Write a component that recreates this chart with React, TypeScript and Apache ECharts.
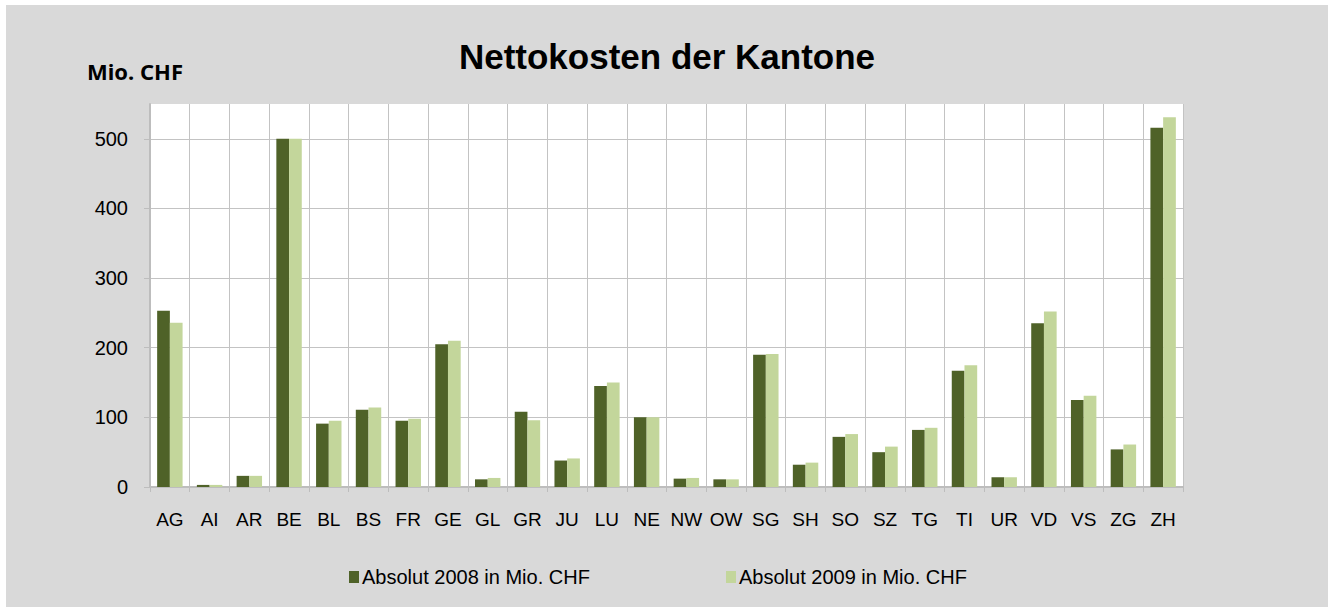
import React, { useEffect, useRef } from "react";
import * as echarts from "echarts";

const categories = ["AG","AI","AR","BE","BL","BS","FR","GE","GL","GR","JU","LU","NE","NW","OW","SG","SH","SO","SZ","TG","TI","UR","VD","VS","ZG","ZH"];
const values2008 = [253, 3, 16, 500, 91, 111, 95, 205, 11, 108, 38, 145, 100, 12, 11, 190, 32, 72, 50, 82, 167, 14, 235, 125, 54, 516];
const values2009 = [236, 3, 16, 500, 95, 114, 98, 210, 13, 96, 41, 150, 100, 13, 11, 191, 35, 76, 58, 85, 175, 14, 252, 131, 61, 531];
const yTicks = [0, 100, 200, 300, 400, 500];
const seriesNames = ["Absolut 2008 in Mio. CHF", "Absolut 2009 in Mio. CHF"];
const titleText = "Nettokosten der Kantone";
const unitText = "Mio. CHF";

const DARK = "#4F6228";
const LIGHT = "#C3D69B";
const GRID = "#c3c3c3";
const AXIS = "#bdbdbd";

export default function App() {
  const ref = useRef<HTMLDivElement>(null);
  useEffect(() => {
    if (!ref.current) return;
    const chart = echarts.init(ref.current, null, { renderer: "svg" });
    chart.setOption({
      animation: false,
      backgroundColor: "#d9d9d9",
      title: {
        text: titleText,
        left: "center",
        top: 29,
        textStyle: { fontFamily: "Liberation Sans, Arial, sans-serif", fontSize: 35, fontWeight: "bold", color: "#000" },
      },
      graphic: [
        {
          type: "text",
          left: 81,
          top: 55,
          style: { text: unitText, font: "bold 22px 'Noto Sans', 'Open Sans', sans-serif", fill: "#000" },
        },
      ],
      legend: [
        {
          data: [seriesNames[0]],
          left: 338,
          top: 557,
          itemWidth: 10,
          itemHeight: 12,
          icon: "rect",
          textStyle: { fontFamily: "Liberation Sans, Arial, sans-serif", fontSize: 20, color: "#000", padding: [0, 0, 0, -2] },
        },
        {
          data: [seriesNames[1]],
          left: 715,
          top: 557,
          itemWidth: 10,
          itemHeight: 12,
          icon: "rect",
          textStyle: { fontFamily: "Liberation Sans, Arial, sans-serif", fontSize: 20, color: "#000", padding: [0, 0, 0, -2] },
        },
      ],
      grid: { left: 144, top: 99, right: 145, bottom: 120, containLabel: false, show: true, backgroundColor: "#ffffff", borderWidth: 0 },
      xAxis: {
        type: "category",
        data: categories,
        boundaryGap: true,
        axisLine: { lineStyle: { color: AXIS, width: 2 } },
        axisTick: { show: true, length: 5, lineStyle: { color: AXIS, width: 1 } },
        splitLine: { show: true, lineStyle: { color: GRID, width: 1 } },
        axisLabel: {
          margin: 23,
          fontFamily: "Liberation Sans, Arial, sans-serif",
          fontSize: 19,
          color: "#000",
          interval: 0,
        },
      },
      yAxis: {
        type: "value",
        min: 0,
        max: 550,
        interval: 100,
        axisLine: { show: true, lineStyle: { color: AXIS, width: 2 } },
        axisTick: { show: true, length: 6, customValues: yTicks, lineStyle: { color: AXIS, width: 1 } },
        splitLine: { show: true, lineStyle: { color: GRID, width: 1 } },
        axisLabel: {
          customValues: yTicks,
          margin: 22,
          fontFamily: "Liberation Sans, Arial, sans-serif",
          fontSize: 20,
          color: "#000",
        },
      },
      series: [
        {
          name: seriesNames[0],
          type: "bar",
          data: values2008,
          itemStyle: { color: DARK },
          barGap: "0%",
          barCategoryGap: "36%",
        },
        {
          name: seriesNames[1],
          type: "bar",
          data: values2009,
          itemStyle: { color: LIGHT },
          barGap: "0%",
          barCategoryGap: "36%",
        },
      ],
    });
    return () => chart.dispose();
  }, []);
  return (
    <div style={{ position: "fixed", left: 0, top: 0, width: 1334, height: 607, background: "#fff" }}>
      <div ref={ref} style={{ position: "absolute", left: 6, top: 5, width: 1322, height: 602 }} />
    </div>
  );
}
